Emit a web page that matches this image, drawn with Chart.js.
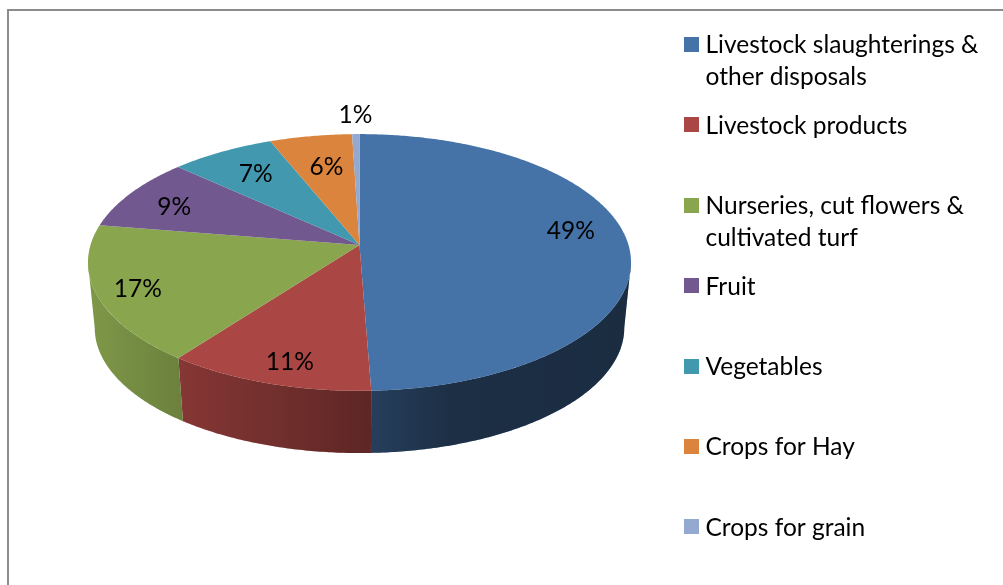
<!DOCTYPE html>
<html>
<head>
<meta charset="utf-8">
<title>Agricultural commodities</title>
<script src="https://cdn.jsdelivr.net/npm/chart.js@4"></script>
<style>
    html, body { margin: 0; padding: 0; background: #fff; overflow: hidden; }
    #frame {
        position: absolute; left: 7px; top: 9px; width: 996px; height: 576px;
        border-left: 2px solid #8c8c8c; border-top: 2px solid #8c8c8c; box-sizing: border-box;
    }
    #pieChart { position: absolute; left: 0; top: 0; }
</style>
</head>
<body>
<div id="frame"></div>
<canvas id="pieChart" width="1003" height="585"></canvas>
<script>
// Datos (la etiqueta sale de redondear cada valor)
const categories = [
    ['Livestock slaughterings &', 'other disposals'],
    ['Livestock products'],
    ['Nurseries, cut flowers &', 'cultivated turf'],
    ['Fruit'],
    ['Vegetables'],
    ['Crops for Hay'],
    ['Crops for grain']
];
const shares = [49.45, 10.85, 17.35, 9.25, 7.1, 5.6, 0.5];
const sliceColors = ['#4572A7', '#AA4643', '#89A54E', '#71588F', '#4198AF', '#DB843D', '#93A9CF'];

// Ajuste fino de cada etiqueta respecto a su posicion radial
const labelNudges = [[2, -12], [0, 13], [-19, 6], [-5, 3], [6, 3], [6, 9], [-1, -41]];

const FONT = '24.5px Lato, Carlito, "Open Sans", sans-serif';
const TILT = 0.136;
const topPlane = { x: 359.5, y: 245, rx: 269, ry: 126 };
const bottomPlane = { x: 359.5, y: 310.8, rx: 262.3, ry: 122.9 };

// Proyeccion con perspectiva: el centro no queda en el medio de la elipse
function project(plane, angle, radius = 1) {
    const w = 1 - TILT * radius * Math.sin(angle);
    return {
        x: plane.x + plane.rx * radius * Math.cos(angle) / w,
        y: plane.y + plane.ry * radius * Math.sin(angle) / w
    };
}

function rimPoints(plane, start, end) {
    const steps = Math.max(2, Math.ceil((end - start) / 0.01));
    const points = [];
    for (let i = 0; i <= steps; i++) {
        points.push(project(plane, start + (end - start) * i / steps));
    }
    return points;
}

function fillPath(ctx, points, color) {
    ctx.beginPath();
    points.forEach((p, i) => i ? ctx.lineTo(p.x, p.y) : ctx.moveTo(p.x, p.y));
    ctx.closePath();
    ctx.fillStyle = color;
    ctx.fill();
}

const pie3d = {
    id: 'pie3d',
    beforeDatasetDraw(chart) {
        const ctx = chart.ctx;
        const arcs = chart.getDatasetMeta(0).data;
        const wallFrom = Math.asin(TILT);
        const wallTo = Math.PI - wallFrom;

        // Sombra horizontal comun a toda la pared
        const shade = ctx.createLinearGradient(95, 0, 625, 0);
        shade.addColorStop(0, 'rgba(0,0,0,0.09)');
        shade.addColorStop(0.164, 'rgba(0,0,0,0.22)');
        shade.addColorStop(0.52, 'rgba(0,0,0,0.45)');
        shade.addColorStop(0.67, 'rgba(0,0,0,0.59)');
        shade.addColorStop(1, 'rgba(0,0,0,0.61)');

        ctx.save();
        arcs.forEach((arc, i) => {
            const start = Math.max(arc.startAngle, wallFrom);
            const end = Math.min(arc.endAngle, wallTo);
            if (end <= start) return;
            const wall = rimPoints(topPlane, start, end)
                .concat(rimPoints(bottomPlane, start, end).reverse());
            fillPath(ctx, wall, sliceColors[i]);
            fillPath(ctx, wall, shade);
        });

        arcs.forEach((arc, i) => {
            const wedge = [{ x: topPlane.x, y: topPlane.y }]
                .concat(rimPoints(topPlane, arc.startAngle, arc.endAngle));
            fillPath(ctx, wedge, sliceColors[i]);
        });
        ctx.restore();
        return false; // la tarta ya esta dibujada
    },
    afterDraw(chart) {
        const ctx = chart.ctx;
        const arcs = chart.getDatasetMeta(0).data;
        ctx.save();
        ctx.font = FONT;
        ctx.fillStyle = '#000';
        ctx.textBaseline = 'middle';

        // Porcentajes
        ctx.textAlign = 'center';
        arcs.forEach((arc, i) => {
            const p = project(topPlane, (arc.startAngle + arc.endAngle) / 2, 0.78);
            ctx.fillText(Math.round(shares[i]) + '%', p.x + labelNudges[i][0], p.y + labelNudges[i][1]);
        });

        // Leyenda
        ctx.textAlign = 'left';
        categories.forEach((lines, i) => {
            const y = 45 + i * 80.4;
            ctx.fillStyle = sliceColors[i];
            ctx.fillRect(684, Math.round(y) - 8, 15, 15);
            ctx.fillStyle = '#000';
            lines.forEach((line, j) => ctx.fillText(line, 705.5, y + 0.5 + j * 32));
        });
        ctx.restore();
    }
};

const pieChart = new Chart(document.getElementById('pieChart').getContext('2d'), {
    type: 'pie',
    data: {
        labels: categories,
        datasets: [{
            data: shares,
            backgroundColor: sliceColors,
            borderWidth: 0
        }]
    },
    options: {
        responsive: false,
        animation: false,
        events: [],
        plugins: {
            legend: { display: false },
            tooltip: { enabled: false }
        }
    },
    plugins: [pie3d]
});
</script>
</body>
</html>
